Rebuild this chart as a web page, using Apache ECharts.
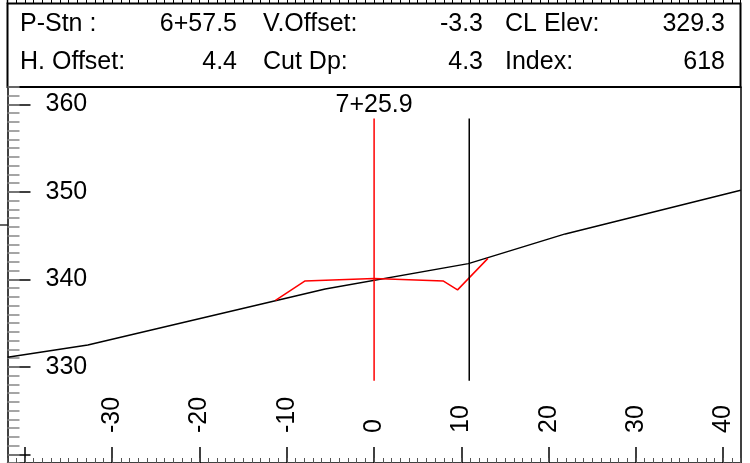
<!DOCTYPE html>
<html>
<head>
<meta charset="utf-8">
<script src="https://cdn.jsdelivr.net/npm/echarts@6/dist/echarts.min.js"></script>
<style>
  html, body { margin: 0; padding: 0; background: #fff; }
  #chart { width: 750px; height: 463px; }
</style>
</head>
<body>
<div id="chart"></div>
<script>
// Cross-section view: existing ground line and design template at one station

// Existing ground profile (offset, elevation)
const groundX = [-42, -32.8, -5.6, 10.8, 21.9, 42];
const groundY = [331.1, 332.5, 338.9, 341.8, 345.2, 350.2];

// Design template profile (offset, elevation)
const templateX = [-11.3, -7.95, 0, 7.95, 9.56, 13.04];
const templateY = [337.6, 339.8, 340.1, 339.8, 338.8, 342.4];

// Vertical reference lines: centerline and offset line
const centerlineX = 0;
const offsetLineX = 10.9;
const verticalTop = 358.4;
const verticalBottom = 328.4;
const stationLabel = '7+25.9';

// Axis ticks and labels
const xMajorTicks = [-40, -30, -20, -10, 0, 10, 20, 30, 40];
const xTickLabels = [-30, -20, -10, 0, 10, 20, 30, 40];
const yMajorTicks = [320, 330, 340, 350, 360];
const yTickLabels = [330, 340, 350, 360];

// Header table
const headerLabels = [
  ['P-Stn :', 'V.Offset:', 'CL Elev:'],
  ['H. Offset:', 'Cut Dp:', 'Index:']
];
const headerValues = [
  ['6+57.5', '-3.3', '329.3'],
  ['4.4', '4.3', '618']
];

const FONT = '"Liberation Sans", Arial, sans-serif';
const FONT_SIZE = 25;
const zip = (xs, ys) => xs.map((x, i) => [x, ys[i]]);

const chart = echarts.init(document.getElementById('chart'), null, { renderer: 'canvas' });

// Header table layout
const labelLeft = [20, 263, 505];
const valueRight = [237, 483, 725];
const rowCenter = [24, 62.5];
const headerGraphics = [{
  type: 'rect',
  shape: { x: 7.5, y: 3.5, width: 733, height: 83.5 },
  style: { fill: 'transparent', stroke: '#000', lineWidth: 2 },
  silent: true
}, {
  type: 'line',
  shape: { x1: 7.5, y1: 0, x2: 7.5, y2: 4 },
  style: { stroke: '#000', lineWidth: 1.5 }
}, {
  type: 'line',
  shape: { x1: 0, y1: 225, x2: 7.5, y2: 225 },
  style: { stroke: '#000', lineWidth: 1.2 }
}];
headerLabels.forEach((row, r) => {
  row.forEach((txt, c) => {
    headerGraphics.push({
      type: 'text', x: labelLeft[c], y: rowCenter[r],
      style: { text: txt, font: FONT_SIZE + 'px ' + FONT, fill: '#000', align: 'left', verticalAlign: 'middle' }
    });
    headerGraphics.push({
      type: 'text', x: valueRight[c], y: rowCenter[r],
      style: { text: headerValues[r][c], font: FONT_SIZE + 'px ' + FONT, fill: '#000', align: 'right', verticalAlign: 'middle' }
    });
  });
});

chart.setOption({
  animation: false,
  backgroundColor: '#fff',
  grid: { left: 7.5, right: 9.3, top: 87, bottom: 0, containLabel: false },
  xAxis: [{
    // major ticks and labels along the bottom
    type: 'value', min: -42, max: 42, position: 'bottom',
    axisLine: { show: true, onZero: false, lineStyle: { color: '#000', width: 1.5 } },
    axisTick: { show: true, inside: true, length: 16, customValues: xMajorTicks, lineStyle: { color: '#000', width: 1.5 } },
    axisLabel: {
      show: true, inside: true, rotate: 90, margin: 30, customValues: xTickLabels,
      fontSize: FONT_SIZE, fontFamily: FONT, color: '#000'
    },
    splitLine: { show: false }
  }, {
    // unit ticks along the bottom
    type: 'value', min: -42, max: 42, interval: 1, position: 'bottom',
    axisLine: { show: false, onZero: false },
    axisTick: { show: true, inside: true, length: 5, lineStyle: { color: '#555', width: 1 } },
    axisLabel: { show: false },
    splitLine: { show: false }
  }, {
    // ruler above the header box
    type: 'value', min: -42, max: 42, interval: 1, position: 'top', offset: 84,
    axisLine: { show: false, onZero: false },
    axisTick: { show: true, inside: false, length: 5, lineStyle: { color: '#000', width: 1 } },
    axisLabel: { show: false },
    splitLine: { show: false }
  }],
  yAxis: [{
    // major ticks and labels on the left
    type: 'value', min: 319, max: 362, position: 'left',
    axisLine: { show: true, onZero: false, lineStyle: { color: '#000', width: 1.5 } },
    axisTick: { show: true, inside: true, length: 23, customValues: yMajorTicks, lineStyle: { color: '#000', width: 1.5 } },
    axisLabel: {
      show: true, inside: true, margin: 38, customValues: yTickLabels,
      fontSize: FONT_SIZE, fontFamily: FONT, color: '#000'
    },
    splitLine: { show: false }
  }, {
    // unit ticks on the left
    type: 'value', min: 319, max: 362, interval: 1, position: 'left',
    axisLine: { show: false, onZero: false },
    axisTick: { show: true, inside: true, length: 12, lineStyle: { color: '#888', width: 1.5 } },
    axisLabel: { show: false },
    splitLine: { show: false }
  }, {
    // right frame edge
    type: 'value', min: 319, max: 362, position: 'right',
    axisLine: { show: true, onZero: false, lineStyle: { color: '#000', width: 1.5 } },
    axisTick: { show: false },
    axisLabel: { show: false },
    splitLine: { show: false }
  }],
  series: [{
    name: 'Ground', type: 'line', xAxisIndex: 0, yAxisIndex: 0,
    data: zip(groundX, groundY),
    symbol: 'none', lineStyle: { color: '#000', width: 1.5 }
  }, {
    name: 'Template', type: 'line', xAxisIndex: 0, yAxisIndex: 0,
    data: zip(templateX, templateY),
    symbol: 'none', lineStyle: { color: '#ff0000', width: 1.5 }
  }, {
    name: 'Centerline', type: 'line', xAxisIndex: 0, yAxisIndex: 0,
    data: [{
      value: [centerlineX, verticalTop],
      label: {
        show: true, position: 'top', distance: 1, formatter: stationLabel,
        fontSize: FONT_SIZE, fontFamily: FONT, color: '#000', lineHeight: 25
      }
    }, { value: [centerlineX, verticalBottom] }],
    symbol: 'circle', symbolSize: 0, showSymbol: true,
    itemStyle: { color: '#ff0000' },
    lineStyle: { color: '#ff0000', width: 1.5 }
  }, {
    name: 'Offset', type: 'line', xAxisIndex: 0, yAxisIndex: 0,
    data: [[offsetLineX, verticalTop], [offsetLineX, verticalBottom]],
    symbol: 'none', lineStyle: { color: '#000', width: 1.5 }
  }],
  graphic: headerGraphics
});
</script>
</body>
</html>
